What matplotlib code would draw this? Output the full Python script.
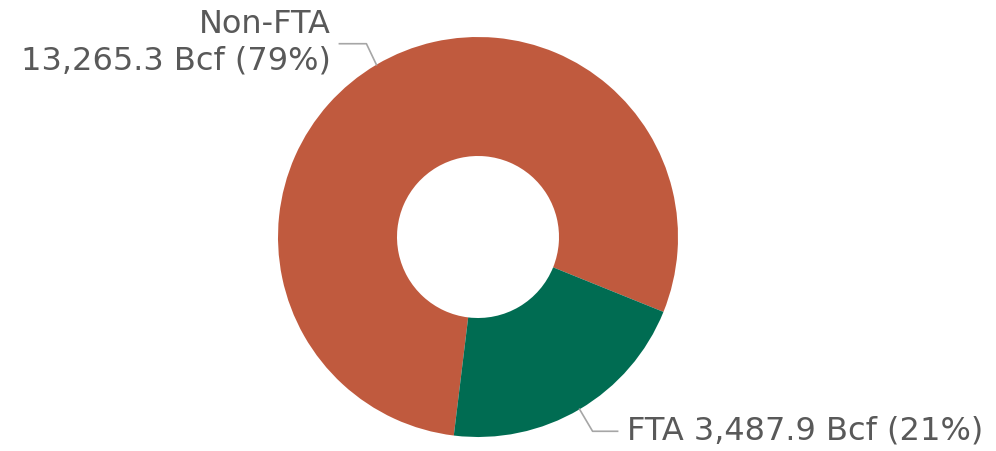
import numpy as np
import matplotlib
matplotlib.use("Agg")
import matplotlib.pyplot as plt

# datos del gráfico
categorias = ['Non-FTA', 'FTA']
valores = [13265.3, 3487.9]
porcentajes = ['79%', '21%']
colores = ['#C05A3E', '#006C52']
etiquetas = ['Non-FTA\n13,265.3 Bcf (79%)', 'FTA 3,487.9 Bcf (21%)']

W, H = 996, 451
fig = plt.figure(figsize=(W / 100, H / 100), dpi=100)
ax = fig.add_axes([0, 0, 1, 1])

cx, cy, R = 478, 214, 200
frac_nofta = valores[0] / sum(valores)
# el sector Non-FTA termina en -22 grados (sentido horario)
inicio = -22 + 360 * frac_nofta

wedges, _ = ax.pie(valores, colors=colores, startangle=inicio,
                   counterclock=False, center=(cx, cy), radius=R,
                   wedgeprops=dict(width=R * 0.595, linewidth=0))

# pie() cambia los límites, los fijamos después
ax.set_xlim(0, W)
ax.set_ylim(0, H)
ax.set_aspect('equal')
ax.axis('off')

gris = '#A6A6A6'
texto = '#595959'
for i, w in enumerate(wedges):
    ang = np.deg2rad((w.theta1 + w.theta2) / 2)
    x0, y0 = cx + R * np.cos(ang), cy + R * np.sin(ang)
    if i == 0:
        x1, y1 = x0 - 10, y0 + 21
        x2 = x1 - 27
        ax.plot([x0, x1, x2], [y0, y1, y1], color=gris, lw=1.2)
        ax.text(x2 - 9, y1 + 1, etiquetas[i], ha='right', va='center', fontsize=23,
                color=texto, linespacing=1.2)
    else:
        x1, y1 = x0 + 13, y0 - 22
        x2 = x1 + 25
        ax.plot([x0, x1, x2], [y0, y1, y1], color=gris, lw=1.2)
        ax.text(x2 + 9, y1, etiquetas[i], ha='left', va='center', fontsize=23,
                color=texto)

fig.savefig('out.png', dpi=100)
